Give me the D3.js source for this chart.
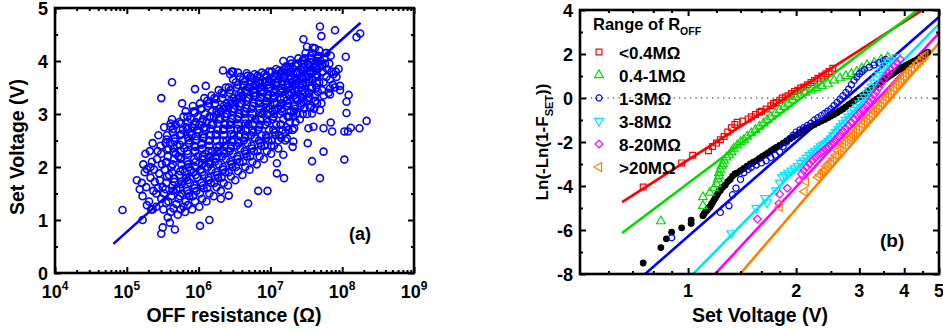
<!DOCTYPE html>
<html><head><meta charset="utf-8">
<script src="https://cdn.jsdelivr.net/npm/d3@7"></script>
<style>
body{margin:0;background:#fff}
text{font-family:Arial,"Liberation Sans",sans-serif;font-weight:bold;fill:#000}
</style>
</head><body>
<svg id="c" width="943" height="330"></svg>
<script>
// ---------- Panel (a) data: [log10(R_OFF / ohm), Set voltage (V)] ----------
const scatterA = [
[4.94,1.19],[5.22,1.0],[5.14,1.75],[5.18,1.58],[5.28,1.96],[5.36,1.2],[5.48,3.3],[5.63,3.6],[5.77,3.2],[5.95,3.47],[6.1,3.53],
[5.61,2.82],[5.61,2.76],[5.48,0.74],[5.5,0.86],[5.6,0.95],[5.67,0.82],[6.02,0.89],[6.15,1.0],[6.69,1.31],[6.83,1.55],[6.96,1.55],
[6.31,1.4],[6.42,1.46],[7.19,1.79],[7.69,1.79],[7.74,2.29],[7.58,2.11],[7.31,2.38],[8.03,2.14],[8.34,2.87],[8.24,2.73],[8.12,2.74],
[8.03,2.67],[8.08,2.67],[7.84,2.84],[7.86,2.67],[7.74,2.73],[8.06,3.02],[8.06,3.23],[8.09,3.36],[7.97,3.53],[7.83,3.48],[7.83,3.37],
[8.05,4.08],[7.91,3.8],[7.9,4.58],[7.69,4.65],[7.71,4.47],[7.46,4.41],[8.25,4.52],[8.2,4.45],[7.51,4.27],[7.62,4.24],[7.78,4.15],
[7.32,2.48],[7.52,2.45],[7.33,2.73],[7.23,2.54],[7.18,2.23],[7.09,2.07],[7.09,1.88],[7.58,3.01],[7.69,3.07],[7.6,2.76],[7.53,2.73],
[6.34,3.82],[6.48,3.8],[6.67,3.77],
[5.22,1.45],[5.25,1.9],[5.27,1.62],[5.23,2.05],[5.28,1.28],[5.26,2.25],[5.21,1.7],
[5.31,1.35],[5.33,1.8],[5.35,2.1],[5.32,2.3],[5.37,1.55],[5.38,1.95],[5.34,1.2],[5.36,2.45],[5.39,1.72],[5.33,2.0],
[5.41,1.25],[5.43,1.6],[5.45,1.88],[5.42,2.15],[5.47,2.4],[5.44,2.6],[5.48,1.4],[5.46,1.75],[5.49,2.05],[5.43,2.3],[5.41,1.5],[5.48,2.25],
[5.51,1.2],[5.52,1.5],[5.55,1.7],[5.53,1.95],[5.57,2.2],[5.54,2.45],[5.56,2.6],[5.58,1.35],[5.59,1.85],[5.52,2.75],[5.55,2.1],[5.58,2.35],[5.5,1.62],[5.57,1.05],
[5.61,1.15],[5.62,1.45],[5.64,1.65],[5.63,1.9],[5.66,2.15],[5.65,2.35],[5.67,2.55],[5.68,2.8],[5.69,1.3],[5.62,2.0],[5.64,2.65],[5.66,1.78],[5.68,2.25],[5.6,2.45],[5.69,1.58],[5.63,2.9],
[5.71,1.1],[5.72,1.4],[5.74,1.6],[5.73,1.85],[5.76,2.05],[5.75,2.3],[5.77,2.5],[5.78,2.7],[5.79,2.95],[5.72,2.2],[5.74,2.6],[5.76,1.72],[5.78,1.95],[5.7,2.4],[5.79,1.25],[5.73,2.85],[5.77,1.5],[5.75,2.15],
[5.81,1.15],[5.82,1.35],[5.84,1.55],[5.83,1.8],[5.86,2.0],[5.85,2.25],[5.87,2.45],[5.88,2.65],[5.89,2.9],[5.82,3.05],[5.84,2.1],[5.86,2.55],[5.88,1.7],[5.8,2.35],[5.89,1.95],[5.83,2.75],[5.87,1.45],[5.85,2.85],[5.81,1.9],
[5.91,1.2],[5.92,1.45],[5.94,1.65],[5.93,1.9],[5.96,2.1],[5.95,2.3],[5.97,2.5],[5.98,2.7],[5.99,2.95],[5.92,3.15],[5.94,2.4],[5.96,2.85],[5.98,1.8],[5.9,2.6],[5.99,2.2],[5.93,3.05],[5.97,1.55],[5.95,2.0],[5.91,2.75],
[6.01,1.25],[6.02,1.5],[6.04,1.7],[6.03,1.95],[6.06,2.15],[6.05,2.35],[6.07,2.55],[6.08,2.75],[6.09,3.0],[6.02,3.2],[6.04,2.45],[6.06,2.9],[6.08,1.85],[6.0,2.65],[6.09,2.25],[6.03,3.1],[6.07,1.6],[6.05,2.05],[6.01,2.8],[6.08,3.3],
[6.11,1.35],[6.12,1.6],[6.14,1.8],[6.13,2.0],[6.16,2.2],[6.15,2.4],[6.17,2.6],[6.18,2.8],[6.19,3.05],[6.12,3.25],[6.14,2.5],[6.16,2.95],[6.18,1.95],[6.1,2.7],[6.19,2.3],[6.13,3.15],[6.17,1.7],[6.15,2.1],[6.11,2.85],[6.18,3.35],
[6.21,1.45],[6.22,1.7],[6.24,1.9],[6.23,2.1],[6.26,2.3],[6.25,2.5],[6.27,2.7],[6.28,2.9],[6.29,3.1],[6.22,3.3],[6.24,2.6],[6.26,3.0],[6.28,2.05],[6.2,2.8],[6.29,2.4],[6.23,3.2],[6.27,1.8],[6.25,2.2],[6.21,2.95],[6.28,3.45],
[6.31,1.55],[6.32,1.8],[6.34,2.0],[6.33,2.2],[6.36,2.4],[6.35,2.6],[6.37,2.8],[6.38,3.0],[6.39,3.2],[6.32,3.4],[6.34,2.7],[6.36,3.1],[6.38,2.15],[6.3,2.9],[6.39,2.5],[6.33,3.3],[6.37,1.9],[6.35,2.3],[6.31,3.05],[6.38,3.5],
[6.41,1.65],[6.42,1.9],[6.44,2.1],[6.43,2.3],[6.46,2.5],[6.45,2.7],[6.47,2.9],[6.48,3.1],[6.49,3.3],[6.42,3.5],[6.44,2.8],[6.46,3.2],[6.48,2.25],[6.4,3.0],[6.49,2.6],[6.43,3.4],[6.47,2.0],[6.45,2.4],[6.41,3.15],[6.48,3.65],[6.44,3.75],[6.46,3.8],
[6.51,1.75],[6.52,2.0],[6.54,2.2],[6.53,2.4],[6.56,2.6],[6.55,2.8],[6.57,3.0],[6.58,3.2],[6.59,3.4],[6.52,3.6],[6.54,2.9],[6.56,3.3],[6.58,2.35],[6.5,3.1],[6.59,2.7],[6.53,3.5],[6.57,2.1],[6.55,2.5],[6.51,3.25],[6.58,3.7],[6.55,3.78],
[6.61,1.85],[6.62,2.1],[6.64,2.3],[6.63,2.5],[6.66,2.7],[6.65,2.9],[6.67,3.1],[6.68,3.3],[6.69,3.5],[6.62,3.65],[6.64,3.0],[6.66,3.4],[6.68,2.45],[6.6,3.2],[6.69,2.8],[6.63,3.55],[6.67,2.2],[6.65,2.6],[6.61,3.35],[6.68,3.72],
[6.71,1.95],[6.72,2.2],[6.74,2.4],[6.73,2.6],[6.76,2.8],[6.75,3.0],[6.77,3.2],[6.78,3.4],[6.79,3.55],[6.72,3.7],[6.74,3.1],[6.76,3.45],[6.78,2.55],[6.7,3.3],[6.79,2.9],[6.73,3.6],[6.77,2.3],[6.75,2.7],[6.71,3.5],[6.78,3.75],
[6.81,2.05],[6.82,2.3],[6.84,2.5],[6.83,2.7],[6.86,2.9],[6.85,3.1],[6.87,3.3],[6.88,3.45],[6.89,3.6],[6.82,3.72],[6.84,3.2],[6.86,3.5],[6.88,2.6],[6.8,3.35],[6.89,3.0],[6.83,3.62],[6.87,2.4],[6.85,2.8],[6.81,3.55],[6.88,3.78],
[6.91,2.15],[6.92,2.4],[6.94,2.6],[6.93,2.8],[6.96,3.0],[6.95,3.2],[6.97,3.35],[6.98,3.5],[6.99,3.65],[6.92,3.75],[6.94,3.25],[6.96,3.55],[6.98,2.7],[6.9,3.4],[6.99,3.1],[6.93,3.6],[6.97,2.5],[6.95,2.9],[6.91,3.05],[6.98,3.8],
[7.01,2.25],[7.02,2.5],[7.04,2.7],[7.03,2.9],[7.06,3.1],[7.05,3.3],[7.07,3.45],[7.08,3.6],[7.09,3.75],[7.02,3.8],[7.04,3.35],[7.06,3.65],[7.08,2.8],[7.0,3.5],[7.09,3.2],[7.03,3.05],[7.07,2.6],[7.05,3.0],[7.01,2.4],[7.08,3.85],
[7.11,2.35],[7.12,2.6],[7.14,2.8],[7.13,3.0],[7.16,3.2],[7.15,3.4],[7.17,3.55],[7.18,3.7],[7.19,3.85],[7.12,3.82],[7.14,3.45],[7.16,3.75],[7.18,2.9],[7.1,3.6],[7.19,3.3],[7.13,3.15],[7.17,2.7],[7.15,3.1],[7.11,2.5],[7.18,4.0],
[7.21,2.5],[7.22,2.75],[7.24,2.95],[7.23,3.15],[7.26,3.35],[7.25,3.5],[7.27,3.65],[7.28,3.8],[7.29,3.95],[7.22,3.9],[7.24,3.55],[7.26,3.85],[7.28,3.05],[7.2,3.7],[7.29,3.4],[7.23,3.25],[7.27,2.85],[7.25,3.2],[7.21,2.65],[7.28,4.02],
[7.31,2.7],[7.32,2.95],[7.34,3.15],[7.33,3.35],[7.36,3.5],[7.35,3.65],[7.37,3.8],[7.38,3.95],[7.39,4.05],[7.32,3.75],[7.34,3.55],[7.36,3.9],[7.38,3.25],[7.3,3.6],[7.39,3.45],[7.33,3.05],[7.37,3.0],[7.35,3.3],[7.31,3.85],
[7.41,2.9],[7.42,3.15],[7.44,3.3],[7.43,3.5],[7.46,3.65],[7.45,3.8],[7.47,3.95],[7.48,4.05],[7.49,4.15],[7.42,3.85],[7.44,3.7],[7.46,4.0],[7.48,3.4],[7.4,3.55],[7.49,3.6],[7.43,3.2],[7.47,3.1],[7.45,3.45],
[7.51,3.0],[7.52,3.25],[7.54,3.4],[7.53,3.6],[7.56,3.75],[7.55,3.9],[7.57,4.05],[7.58,4.15],[7.59,4.25],[7.52,3.95],[7.54,3.8],[7.56,4.1],[7.58,3.5],[7.5,3.7],[7.59,3.65],[7.53,3.3],[7.57,3.15],
[7.61,3.1],[7.62,3.35],[7.64,3.5],[7.63,3.7],[7.66,3.85],[7.65,4.0],[7.67,4.1],[7.68,4.2],[7.62,3.95],[7.64,3.75],[7.66,4.05],[7.68,3.6],[7.6,3.8],[7.69,3.9],[7.63,3.25],
[7.71,3.2],[7.72,3.45],[7.74,3.6],[7.73,3.8],[7.76,3.95],[7.75,4.05],[7.77,4.15],[7.72,3.9],[7.78,3.7],[7.7,4.0],[7.79,3.85],[7.74,3.35],
[7.81,3.4],[7.83,3.65],[7.85,3.8],[7.82,3.95],[7.87,3.55],[7.84,4.1],[7.88,3.75],
[7.92,3.7],[7.95,3.85],[7.9,3.5],[7.97,3.45]
];
// densest core of the cloud (read separately, overlapping circles)
const scatterACore = [
[5.55,1.32],[5.54,1.58],[5.56,1.82],[5.545,2.08],[5.565,2.32],[5.555,2.52],
[5.65,1.22],[5.645,1.55],[5.66,1.72],[5.64,2.05],[5.655,2.28],[5.665,2.48],[5.645,2.72],
[5.75,1.2],[5.74,1.45],[5.765,1.68],[5.745,1.92],[5.755,2.18],[5.74,2.42],[5.76,2.62],[5.75,2.82],
[5.85,1.28],[5.86,1.5],[5.845,1.75],[5.855,2.05],[5.84,2.3],[5.865,2.5],[5.85,2.72],[5.845,2.95],
[5.95,1.35],[5.945,1.6],[5.96,1.85],[5.94,2.15],[5.955,2.38],[5.965,2.58],[5.95,2.8],[5.945,3.02],
[6.05,1.4],[6.06,1.65],[6.045,1.9],[6.055,2.2],[6.04,2.42],[6.065,2.62],[6.05,2.85],[6.045,3.1],
[6.15,1.5],[6.145,1.75],[6.16,2.05],[6.14,2.3],[6.155,2.5],[6.165,2.72],[6.15,2.95],[6.145,3.2],
[6.25,1.62],[6.26,1.85],[6.245,2.15],[6.255,2.38],[6.24,2.62],[6.265,2.82],[6.25,3.05],[6.245,3.28],
[6.35,1.7],[6.345,1.95],[6.36,2.25],[6.34,2.5],[6.355,2.72],[6.365,2.95],[6.35,3.15],[6.345,3.38],
[6.45,1.82],[6.46,2.05],[6.445,2.35],[6.455,2.62],[6.44,2.85],[6.465,3.05],[6.45,3.25],[6.445,3.45],
[6.55,1.92],[6.545,2.15],[6.56,2.45],[6.54,2.72],[6.555,2.95],[6.565,3.15],[6.55,3.35],[6.545,3.55],
[6.65,2.0],[6.66,2.25],[6.645,2.55],[6.655,2.82],[6.64,3.05],[6.665,3.25],[6.65,3.45],[6.645,3.62],
[6.75,2.1],[6.745,2.35],[6.76,2.65],[6.74,2.92],[6.755,3.15],[6.765,3.35],[6.75,3.52],[6.745,3.68],
[6.85,2.2],[6.86,2.45],[6.845,2.75],[6.855,3.02],[6.84,3.25],[6.865,3.42],[6.85,3.58],[6.845,3.7],
[6.95,2.3],[6.945,2.55],[6.96,2.85],[6.94,3.12],[6.955,3.3],[6.965,3.48],[6.95,3.62],[6.945,3.72],
[7.05,2.4],[7.06,2.65],[7.045,2.95],[7.055,3.2],[7.04,3.4],[7.065,3.55],[7.05,3.7],
[7.15,2.55],[7.145,2.8],[7.16,3.05],[7.14,3.28],[7.155,3.48],[7.165,3.62],[7.15,3.78],
[7.25,2.7],[7.26,2.95],[7.245,3.15],[7.255,3.38],[7.24,3.58],[7.265,3.72],[7.25,3.88],
[7.35,2.85],[7.345,3.1],[7.36,3.28],[7.34,3.45],[7.355,3.62],[7.365,3.78],[7.35,3.92],
[7.45,3.0],[7.46,3.22],[7.445,3.38],[7.455,3.55],[7.44,3.72],[7.465,3.88],[7.45,4.02],
[7.55,3.12],[7.545,3.32],[7.56,3.48],[7.54,3.65],[7.555,3.82],[7.565,3.98],
[7.65,3.2],[7.66,3.42],[7.645,3.58],[7.655,3.72],[7.64,3.9],[7.665,4.08]
];
const fitA = [[6.5e4, 0.55], [1.8e8, 4.72]];
const xTicksA = [1e4, 1e5, 1e6, 1e7, 1e8, 1e9];
const xTickExpA = ["4", "5", "6", "7", "8", "9"];
const yTicksA = [0, 1, 2, 3, 4, 5];

// ---------- Panel (b) data: [Set voltage (V), Ln(-Ln(1-F))] ----------
const seriesNames = ["<0.4M\u03A9", "0.4-1M\u03A9", "1-3M\u03A9", "3-8M\u03A9", "8-20M\u03A9", ">20M\u03A9"];
const seriesColors = ["#ff0000", "#00dd00", "#0000ff", "#00e5ff", "#ff00ff", "#ff8000"];
const redPts = [[0.75,-4.05],[0.96,-2.95],[1.03,-2.6],[1.14,-2.4],[1.17,-2.2],[1.2,-2.05],[1.23,-1.9],[1.26,-1.75],[1.29,-1.55],[1.32,-1.35],[1.35,-1.2],[1.37,-1.1],[1.42,-1.05],[1.47,-0.95],[1.5,-0.85],[1.54,-0.75],[1.58,-0.65],[1.6,-0.6],[1.65,-0.5],[1.7,-0.35],[1.73,-0.25],[1.76,-0.2],[1.8,-0.1],[1.83,0.0],[1.87,0.05],[1.9,0.1],[1.94,0.2],[1.98,0.3],[2.02,0.35],[2.06,0.45],[2.1,0.5],[2.15,0.6],[2.2,0.7],[2.25,0.8],[2.3,0.9],[2.36,1.0],[2.42,1.1],[2.47,1.2],[2.53,1.35]];
const greenPts = [[0.84,-5.6],[1.1,-4.5],[1.1,-4.9],[1.15,-4.3],[1.18,-4.1],[1.2,-3.9],[1.21,-3.7],[1.22,-3.55],[1.22,-3.4],[1.23,-3.25],[1.24,-3.1],[1.25,-3.0],[1.26,-2.85],[1.28,-2.7],[1.3,-2.6],[1.32,-2.45],[1.34,-2.3],[1.37,-2.15],[1.4,-2.0],[1.43,-1.9],[1.46,-1.75],[1.5,-1.6],[1.54,-1.45],[1.58,-1.3],[1.62,-1.15],[1.66,-1.0],[1.7,-0.85],[1.75,-0.7],[1.8,-0.55],[1.85,-0.4],[1.9,-0.25],[1.95,-0.1],[2.0,0.05],[2.06,0.15],[2.12,0.25],[2.2,0.35],[2.28,0.45],[2.36,0.55],[2.45,0.65],[2.55,0.8],[2.65,0.9],[2.75,1.0],[2.85,1.1],[2.95,1.2],[3.05,1.35],[3.15,1.5],[3.3,1.6],[3.45,1.75],[3.6,1.85]];
const bluePts = [[0.9,-6.35],[1.23,-5.2],[1.3,-4.9],[1.33,-4.4],[1.36,-4.1],[1.4,-3.7],[1.43,-3.4],[1.47,-3.25],[1.5,-3.15],[1.55,-3.05],[1.6,-2.95],[1.65,-2.85],[1.7,-2.7],[1.75,-2.6],[1.8,-2.45],[1.84,-2.2],[1.88,-2.0],[1.92,-1.85],[1.96,-1.7],[2.0,-1.55],[2.05,-1.45],[2.1,-1.35],[2.15,-1.25],[2.2,-1.15],[2.25,-1.0],[2.3,-0.9],[2.35,-0.8],[2.4,-0.7],[2.45,-0.6],[2.5,-0.5],[2.55,-0.35],[2.6,-0.2],[2.65,-0.05],[2.7,0.1],[2.75,0.25],[2.8,0.4],[2.85,0.6],[2.9,0.8],[2.95,0.95],[3.0,1.1],[3.05,1.2],[3.1,1.3],[3.2,1.4],[3.3,1.5],[3.4,1.6],[3.5,1.7],[3.55,1.75]];
const cyanPts = [[1.32,-6.15],[1.55,-5.0],[1.64,-4.55],[1.66,-4.75],[1.76,-4.2],[1.8,-3.85],[1.83,-3.6],[1.86,-3.5],[1.9,-3.4],[1.94,-3.3],[1.98,-3.2],[2.02,-3.1],[2.06,-2.95],[2.1,-2.85],[2.14,-2.72],[2.18,-2.6],[2.22,-2.5],[2.26,-2.4],[2.3,-2.3],[2.34,-2.2],[2.38,-2.12],[2.42,-2.05],[2.46,-1.95],[2.5,-1.85],[2.54,-1.7],[2.58,-1.55],[2.62,-1.4],[2.66,-1.28],[2.7,-1.15],[2.75,-1.0],[2.8,-0.85],[2.85,-0.7],[2.9,-0.55],[2.95,-0.4],[3.0,-0.25],[3.05,-0.1],[3.1,0.05],[3.15,0.2],[3.2,0.35],[3.25,0.5],[3.3,0.7],[3.35,0.88],[3.4,1.05],[3.45,1.2],[3.5,1.35],[3.56,1.5],[3.62,1.62],[3.7,1.72],[3.8,1.85]];
const magentaPts = [[1.56,-5.5],[1.79,-4.8],[1.8,-4.37],[1.89,-4.1],[2.04,-3.75],[2.07,-3.45],[2.1,-3.3],[2.14,-3.15],[2.18,-3.0],[2.22,-2.85],[2.26,-2.72],[2.3,-2.6],[2.34,-2.5],[2.38,-2.4],[2.42,-2.3],[2.46,-2.2],[2.5,-2.1],[2.54,-2.0],[2.58,-1.88],[2.62,-1.75],[2.66,-1.62],[2.7,-1.5],[2.75,-1.38],[2.8,-1.25],[2.85,-1.1],[2.9,-0.95],[2.95,-0.8],[3.0,-0.68],[3.05,-0.55],[3.1,-0.45],[3.15,-0.32],[3.2,-0.18],[3.25,-0.02],[3.3,0.15],[3.35,0.3],[3.4,0.48],[3.45,0.65],[3.5,0.82],[3.56,1.0],[3.62,1.15],[3.68,1.3],[3.75,1.45],[3.82,1.6],[3.9,1.75]];
const orangePts = [[1.8,-4.95],[2.11,-4.25],[2.13,-3.8],[2.3,-3.6],[2.33,-3.5],[2.37,-3.35],[2.4,-3.25],[2.43,-3.1],[2.46,-3.0],[2.5,-2.9],[2.54,-2.75],[2.58,-2.6],[2.62,-2.4],[2.66,-2.25],[2.7,-2.1],[2.74,-1.98],[2.78,-1.88],[2.82,-1.78],[2.86,-1.68],[2.9,-1.58],[2.95,-1.45],[3.0,-1.33],[3.05,-1.2],[3.1,-1.08],[3.15,-0.95],[3.2,-0.85],[3.25,-0.75],[3.3,-0.62],[3.35,-0.5],[3.4,-0.38],[3.45,-0.25],[3.5,-0.12],[3.56,0.02],[3.62,0.15],[3.68,0.3],[3.74,0.45],[3.8,0.6],[3.86,0.72],[3.92,0.85],[3.98,0.98],[4.05,1.1],[4.12,1.22],[4.2,1.35],[4.28,1.48],[4.36,1.6],[4.44,1.72],[4.52,1.85],[4.58,1.95]];
const allPts = [[0.75,-7.5],[0.84,-6.8],[0.87,-6.4],[0.9,-6.1],[0.96,-5.9],[1.02,-5.55],[1.02,-5.7],[1.1,-5.35],[1.11,-5.25],[1.12,-5.15],[1.13,-5.1],[1.14,-5.0],[1.15,-4.95],[1.16,-4.85],[1.17,-4.75],[1.18,-4.65],[1.19,-4.55],[1.2,-4.45],[1.21,-4.35],[1.22,-4.25],[1.23,-4.2],[1.24,-4.1],[1.25,-4.05],[1.27,-3.95],[1.29,-3.8],[1.31,-3.7],[1.33,-3.55],[1.35,-3.45],[1.37,-3.4],[1.4,-3.3],[1.43,-3.2],[1.46,-3.1],[1.49,-3.0],[1.52,-2.92],[1.55,-2.85],[1.58,-2.75],[1.61,-2.65],[1.64,-2.58],[1.67,-2.5],[1.7,-2.4],[1.73,-2.32],[1.76,-2.25],[1.8,-2.15],[1.84,-2.05],[1.88,-1.95],[1.92,-1.85],[1.96,-1.77],[2.0,-1.68],[2.04,-1.6],[2.08,-1.5],[2.12,-1.42],[2.16,-1.35],[2.2,-1.28],[2.25,-1.2],[2.3,-1.12],[2.35,-1.05],[2.4,-0.98],[2.45,-0.9],[2.5,-0.82],[2.55,-0.75],[2.6,-0.67],[2.65,-0.58],[2.7,-0.5],[2.75,-0.4],[2.8,-0.3],[2.85,-0.22],[2.9,-0.13],[2.95,-0.05],[3.0,0.03],[3.05,0.1],[3.1,0.18],[3.15,0.26],[3.2,0.34],[3.25,0.42],[3.3,0.5],[3.35,0.58],[3.4,0.66],[3.45,0.74],[3.5,0.82],[3.55,0.88],[3.6,0.95],[3.65,1.02],[3.7,1.08],[3.75,1.15],[3.8,1.22],[3.85,1.28],[3.9,1.33],[3.95,1.38],[4.0,1.43],[4.05,1.48],[4.1,1.53],[4.15,1.57],[4.2,1.62],[4.25,1.66],[4.3,1.7],[4.35,1.74],[4.4,1.78],[4.45,1.84],[4.5,1.9],[4.55,1.97],[4.6,2.03],[4.65,2.08]];
// Weibull fit lines: [V1, y1, V2, y2]
const fitsB = [[0.655,-4.73,4.6,4.1],[0.655,-6.14,4.45,4.1],[0.759,-8,5,3.68],[1.033,-8,5,3.36],[1.19,-8,5,2.95],[1.396,-8,5,2.5]];
const xTicksB = [1, 2, 3, 4, 5];
const xMinorB = [0.6, 0.7, 0.8, 0.9, 1.2, 1.4, 1.6, 1.8, 2.5, 3.5, 4.5];
const yTicksB = [-8, -6, -4, -2, 0, 2, 4];

const svg = d3.select("#c");

// ================= Panel (a) =================
const xa = d3.scaleLog().domain([1e4, 1e9]).range([55, 414]);
const ya = d3.scaleLinear().domain([0, 5]).range([273, 8]);
const ga = svg.append("g");

const minorA = [];
for (let e = 4; e < 9; e++) for (let m = 2; m <= 9; m++) minorA.push(m * Math.pow(10, e));
const yMinorA = [0.5, 1.5, 2.5, 3.5, 4.5];

function drawAxes(g, x, y, xMaj, xMin, yMaj, yMin, x0, x1, y0, y1) {
  const mk = (ax, tr) => g.append("g").attr("transform", tr).call(ax)
      .call(s => s.select(".domain").remove())
      .call(s => s.selectAll("line").attr("stroke", "#000").attr("stroke-width", 2))
      .call(s => s.selectAll("text").remove());
  mk(d3.axisBottom(x).tickValues(xMaj).tickSize(-6), `translate(0,${y0})`);
  mk(d3.axisBottom(x).tickValues(xMin).tickSize(-3), `translate(0,${y0})`);
  mk(d3.axisTop(x).tickValues(xMaj).tickSize(-6), `translate(0,${y1})`);
  mk(d3.axisTop(x).tickValues(xMin).tickSize(-3), `translate(0,${y1})`);
  mk(d3.axisLeft(y).tickValues(yMaj).tickSize(-6), `translate(${x0},0)`);
  mk(d3.axisLeft(y).tickValues(yMin).tickSize(-3), `translate(${x0},0)`);
  mk(d3.axisRight(y).tickValues(yMaj).tickSize(-6), `translate(${x1},0)`);
  mk(d3.axisRight(y).tickValues(yMin).tickSize(-3), `translate(${x1},0)`);
  g.append("rect").attr("x", x0).attr("y", y1).attr("width", x1 - x0).attr("height", y0 - y1)
    .attr("fill", "none").attr("stroke", "#000").attr("stroke-width", 2.6);
}

// scatter
ga.append("g").selectAll("circle").data(scatterA.concat(scatterACore)).join("circle")
  .attr("cx", d => xa(Math.pow(10, d[0]))).attr("cy", d => ya(d[1])).attr("r", 3.5)
  .attr("fill", "none").attr("stroke", "#0000ff").attr("stroke-width", 1.6);
// fit
ga.append("path").datum(fitA).attr("d", d3.line().x(d => xa(d[0])).y(d => ya(d[1])))
  .attr("stroke", "#0000ff").attr("stroke-width", 2.6).attr("fill", "none");

drawAxes(ga, xa, ya, xTicksA, minorA, yTicksA, yMinorA, 55, 414, 273, 8);

// tick labels
xTicksA.forEach((t, i) => {
  const tx = ga.append("text").attr("x", xa(t)).attr("y", 298).attr("text-anchor", "middle").style("font-size", "18px");
  tx.append("tspan").text("10");
  tx.append("tspan").attr("dy", -8).style("font-size", "12px").text(xTickExpA[i]);
});
yTicksA.forEach(t => {
  ga.append("text").attr("x", 48).attr("y", ya(t) + 6.5).attr("text-anchor", "end").style("font-size", "18px").text(t);
});
ga.append("text").attr("x", 234).attr("y", 322).attr("text-anchor", "middle").style("font-size", "19.5px").text("OFF resistance (\u03A9)");
ga.append("text").attr("transform", "translate(24,147) rotate(-90)").attr("text-anchor", "middle").style("font-size", "19.5px").text("Set Voltage (V)");
ga.append("text").attr("x", 349).attr("y", 240).style("font-size", "18px").text("(a)");

// ================= Panel (b) =================
const xb = d3.scaleLog().domain([0.5, 5]).range([580, 939]);
const yb = d3.scaleLinear().domain([-8, 4]).range([274, 10]);
const gb = svg.append("g");
svg.append("clipPath").attr("id", "clipb").append("rect").attr("x", 580).attr("y", 10).attr("width", 359).attr("height", 264);

gb.append("line").attr("x1", 580).attr("x2", 939).attr("y1", yb(0)).attr("y2", yb(0))
  .attr("stroke", "#666").attr("stroke-width", 1.3).attr("stroke-dasharray", "1.3,4.2");

const plot = gb.append("g").attr("clip-path", "url(#clipb)");
fitsB.forEach((f, i) => {
  plot.append("line").attr("x1", xb(f[0])).attr("y1", yb(f[1])).attr("x2", xb(f[2])).attr("y2", yb(f[3]))
    .attr("stroke", seriesColors[i]).attr("stroke-width", 2.6);
});

const symTypes = [
  {t: d3.symbolSquare, s: 34, r: 0},
  {t: d3.symbolTriangle, s: 34, r: 0},
  {t: d3.symbolCircle, s: 30, r: 0},
  {t: d3.symbolTriangle, s: 34, r: 180},
  {t: d3.symbolSquare, s: 30, r: 45},
  {t: d3.symbolTriangle, s: 34, r: -90}
];
const seriesData = [redPts, greenPts, bluePts, cyanPts, magentaPts, orangePts];

plot.append("g").selectAll("circle").data(allPts).join("circle")
  .attr("cx", d => xb(d[0])).attr("cy", d => yb(d[1])).attr("r", 3.4).attr("fill", "#000");

seriesData.forEach((pts, i) => {
  const st = symTypes[i];
  plot.append("g").selectAll("path").data(pts).join("path")
    .attr("d", d3.symbol().type(st.t).size(st.s))
    .attr("transform", d => `translate(${xb(d[0])},${yb(d[1])}) rotate(${st.r})`)
    .attr("fill", "none").attr("stroke", seriesColors[i]).attr("stroke-width", 1.2);
});

drawAxes(gb, xb, yb, xTicksB, xMinorB, yTicksB, [-7, -5, -3, -1, 1, 3], 580, 939, 274, 10);

xTicksB.forEach(t => {
  gb.append("text").attr("x", xb(t)).attr("y", 297).attr("text-anchor", "middle").style("font-size", "18px").text(t);
});
yTicksB.forEach(t => {
  gb.append("text").attr("x", 573).attr("y", yb(t) + 6.5).attr("text-anchor", "end").style("font-size", "18px").text(t);
});
gb.append("text").attr("x", 760).attr("y", 322).attr("text-anchor", "middle").style("font-size", "19.5px").text("Set Voltage (V)");
const yt = gb.append("text").attr("transform", "translate(548,142) rotate(-90)").attr("text-anchor", "middle").style("font-size", "17px");
yt.append("tspan").text("Ln(-Ln(1-F");
yt.append("tspan").attr("dy", 5).style("font-size", "11px").text("SET");
yt.append("tspan").attr("dy", -5).text("))");
gb.append("text").attr("x", 880).attr("y", 247).style("font-size", "19px").text("(b)");

const lt = gb.append("text").attr("x", 593).attr("y", 30).style("font-size", "16.5px");
lt.append("tspan").text("Range of R");
lt.append("tspan").attr("dy", 5).style("font-size", "10.5px").text("OFF");
seriesNames.forEach((n, i) => {
  const cy = 52 + i * 23;
  const st = symTypes[i];
  gb.append("path").attr("d", d3.symbol().type(st.t).size(st.s)())
    .attr("transform", `translate(599,${cy}) rotate(${st.r})`)
    .attr("fill", "none").attr("stroke", seriesColors[i]).attr("stroke-width", 1.2);
  gb.append("text").attr("x", 619).attr("y", cy + 6.5).style("font-size", "17px").text(n);
});
</script>
</body></html>
